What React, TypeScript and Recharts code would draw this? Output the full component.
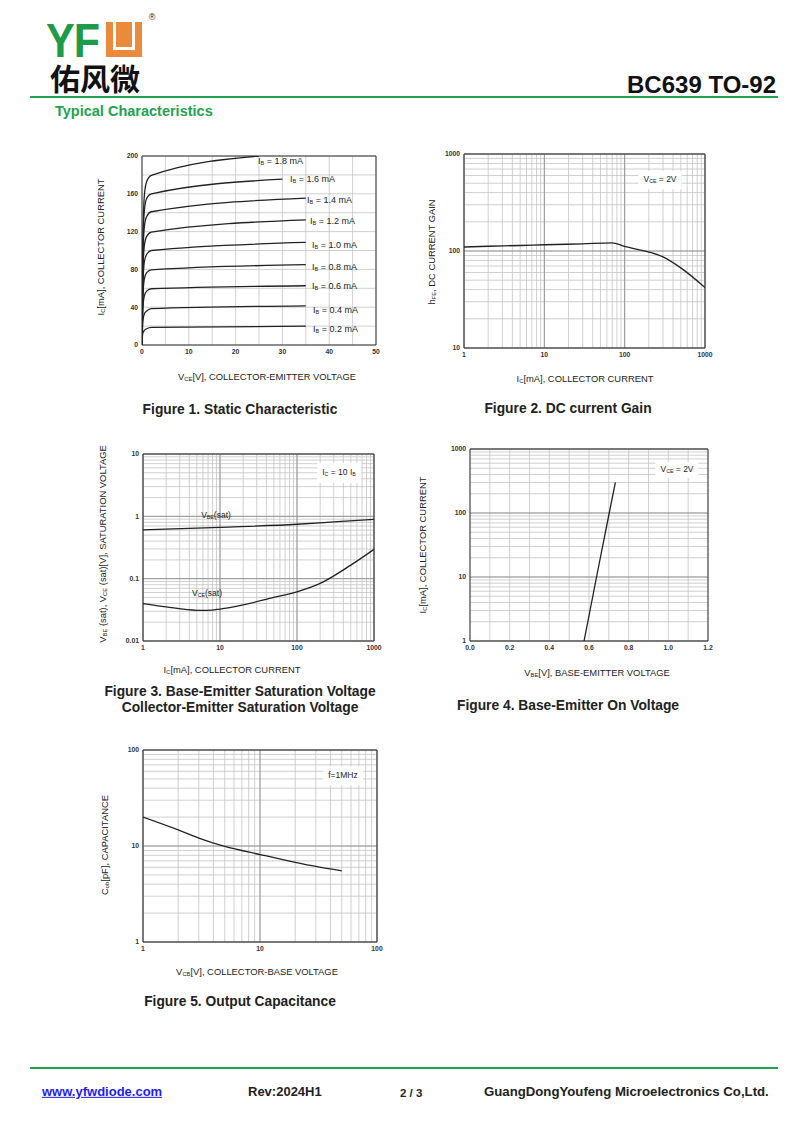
import React from "react";
import {
  LineChart,
  Line,
  XAxis,
  YAxis,
  CartesianGrid,
  ReferenceLine,
} from "recharts";

// ---- Figure 1: static characteristic, Ic vs Vce for each Ib ----
const ib02 = [{ v: 0, ic: 0 }, { v: 0.15, ic: 12 }, { v: 0.5, ic: 15.5 }, { v: 1, ic: 17.2 }, { v: 2, ic: 18.6 }, { v: 35, ic: 20 }];
const ib04 = [{ v: 0, ic: 0 }, { v: 0.2, ic: 26 }, { v: 0.5, ic: 33 }, { v: 1, ic: 36 }, { v: 2, ic: 38.5 }, { v: 35, ic: 41.5 }];
const ib06 = [{ v: 0, ic: 0 }, { v: 0.2, ic: 40 }, { v: 0.5, ic: 52 }, { v: 1, ic: 57 }, { v: 2, ic: 59.5 }, { v: 35, ic: 62.7 }];
const ib08 = [{ v: 0, ic: 0 }, { v: 0.2, ic: 52 }, { v: 0.5, ic: 70 }, { v: 1, ic: 76.5 }, { v: 2, ic: 79.5 }, { v: 35, ic: 85 }];
const ib10 = [{ v: 0, ic: 0 }, { v: 0.2, ic: 65 }, { v: 0.5, ic: 88 }, { v: 1, ic: 96 }, { v: 2, ic: 100 }, { v: 35, ic: 108.5 }];
const ib12 = [{ v: 0, ic: 0 }, { v: 0.2, ic: 78 }, { v: 0.5, ic: 105 }, { v: 1, ic: 115 }, { v: 2, ic: 119.5 }, { v: 35, ic: 132.5 }];
const ib14 = [{ v: 0, ic: 0 }, { v: 0.2, ic: 90 }, { v: 0.5, ic: 125 }, { v: 1, ic: 136 }, { v: 2, ic: 141 }, { v: 35, ic: 155.5 }];
const ib16 = [{ v: 0, ic: 0 }, { v: 0.2, ic: 100 }, { v: 0.5, ic: 142 }, { v: 1, ic: 155 }, { v: 2, ic: 160 }, { v: 30, ic: 175.5 }];
const ib18 = [{ v: 0, ic: 0 }, { v: 0.2, ic: 110 }, { v: 0.5, ic: 158 }, { v: 1, ic: 173 }, { v: 2, ic: 179.5 }, { v: 25, ic: 200 }];
const fig1Curves = [ib02, ib04, ib06, ib08, ib10, ib12, ib14, ib16, ib18];
const fig1Labels = ["0.2", "0.4", "0.6", "0.8", "1.0", "1.2", "1.4", "1.6", "1.8"];
const fig1XTicks = [0, 5, 10, 15, 20, 25, 30, 35, 40, 45, 50];
const fig1XLabels = [0, 10, 20, 30, 40, 50];
const fig1YTicks = [0, 20, 40, 60, 80, 100, 120, 140, 160, 180, 200];
const fig1YLabels = [0, 40, 80, 120, 160, 200];

// ---- Figure 2: hFE vs Ic ----
const hfe = [
  { ic: 1, h: 110 }, { ic: 2, h: 112 }, { ic: 5, h: 114 }, { ic: 10, h: 116 },
  { ic: 30, h: 118.5 }, { ic: 70, h: 121 }, { ic: 100, h: 111.5 }, { ic: 200, h: 97.6 },
  { ic: 300, h: 87 }, { ic: 500, h: 67 }, { ic: 1000, h: 42 },
];

// ---- Figure 3: saturation voltages vs Ic ----
const vbeSat = [{ ic: 1, v: 0.605 }, { ic: 10, v: 0.667 }, { ic: 100, v: 0.746 }, { ic: 300, v: 0.813 }, { ic: 1000, v: 0.897 }];
const vceSat = [
  { ic: 1, v: 0.0398 }, { ic: 2, v: 0.0352 }, { ic: 5, v: 0.0311 }, { ic: 7, v: 0.031 },
  { ic: 10, v: 0.0325 }, { ic: 20, v: 0.038 }, { ic: 50, v: 0.05 }, { ic: 100, v: 0.0616 },
  { ic: 200, v: 0.0838 }, { ic: 500, v: 0.165 }, { ic: 1000, v: 0.295 },
];

// ---- Figure 4: Ic vs Vbe ----
const vbeOn = [{ v: 0.575, ic: 1 }, { v: 0.638, ic: 10 }, { v: 0.702, ic: 100 }, { v: 0.733, ic: 300 }];
const fig4XTicks = [0, 0.1, 0.2, 0.3, 0.4, 0.5, 0.6, 0.7, 0.8, 0.9, 1.0, 1.1, 1.2];
const fig4XLabels = ["0.0", "0.2", "0.4", "0.6", "0.8", "1.0", "1.2"];

// ---- Figure 5: Cob vs Vcb ----
const cob = [
  { v: 1, c: 20 }, { v: 2, c: 14.7 }, { v: 3, c: 12.1 }, { v: 5, c: 9.9 },
  { v: 10, c: 8.15 }, { v: 20, c: 6.76 }, { v: 30, c: 6.12 }, { v: 50, c: 5.5 },
];

// log grid: decades x steps
const steps = [1, 2, 3, 4, 5, 6, 7, 8, 9];
const logTicks = (decades: number[]) => {
  const out: number[] = [];
  decades.slice(0, -1).forEach((d) => steps.forEach((s) => out.push(+(d * s).toPrecision(6))));
  out.push(decades[decades.length - 1]);
  return out;
};
const dec1k = [1, 10, 100, 1000];
const dec10to1k = [10, 100, 1000];
const decSat = [0.01, 0.1, 1, 10];
const dec100 = [1, 10, 100];

const GREEN = "#22a34f";
const FONT = "'Liberation Sans', Arial, sans-serif";
const tickStyle = { fontSize: 6.8, fill: "#333", fontWeight: 700, fontFamily: FONT };

const Sub = ({ children }: any) => (
  <span style={{ fontSize: "0.62em", verticalAlign: "-0.2em" }}>{children}</span>
);

function Tx({ x, y, size = 9, bold = false, color = "#222", anchor = "middle", rotate = false, bg, children, style }: any) {
  const tx = anchor === "middle" ? "-50%" : anchor === "end" ? "-100%" : "0";
  return (
    <div
      style={{
        position: "absolute",
        left: x,
        top: y,
        transform: `translate(${tx}, -50%)${rotate ? " rotate(-90deg)" : ""}`,
        fontSize: size,
        fontWeight: bold ? 700 : 400,
        color,
        whiteSpace: "nowrap",
        fontFamily: FONT,
        lineHeight: 1.1,
        background: bg,
        ...style,
      }}
    >
      {children}
    </div>
  );
}

type Series = { data: any[]; y: string; curve?: "monotone" | "linear" };

function Plot(props: {
  left: number; top: number; w: number; h: number; xKey: string;
  xDomain: number[]; yDomain: number[]; xLog?: boolean; yLog?: boolean;
  xTicks: number[]; yTicks: number[]; xFmt: (v: number) => string; yFmt: (v: number) => string;
  xMajor?: number[]; yMajor?: number[]; series: Series[];
}) {
  const L = 34, T = 4, R = 16, B = 14;
  const p = props;
  return (
    <div style={{ position: "absolute", left: p.left - L, top: p.top - T }}>
      <LineChart width={p.w + L + R} height={p.h + T + B} margin={{ top: T, right: R, bottom: 0, left: 0 }}>
        <CartesianGrid stroke="#c4c4c4" strokeWidth={0.8} />
        <XAxis
          type="number" dataKey={p.xKey} scale={p.xLog ? "log" : "linear"} domain={p.xDomain}
          ticks={p.xTicks} interval={0} tickFormatter={p.xFmt} allowDataOverflow height={B}
          axisLine={false} tickLine={false} tickSize={3} tickMargin={1} tick={tickStyle}
        />
        <YAxis
          type="number" scale={p.yLog ? "log" : "linear"} domain={p.yDomain}
          ticks={p.yTicks} interval={0} tickFormatter={p.yFmt} allowDataOverflow width={L}
          axisLine={false} tickLine={false} tickSize={3} tickMargin={1} tick={tickStyle}
        />
        {(p.xMajor || []).map((v) => (
          <ReferenceLine key={"mx" + v} x={v} stroke="#8e8e8e" strokeWidth={0.9} />
        ))}
        {(p.yMajor || []).map((v) => (
          <ReferenceLine key={"my" + v} y={v} stroke="#8e8e8e" strokeWidth={0.9} />
        ))}
        <ReferenceLine x={p.xDomain[0]} stroke="#333" />
        <ReferenceLine x={p.xDomain[1]} stroke="#333" />
        <ReferenceLine y={p.yDomain[0]} stroke="#333" />
        <ReferenceLine y={p.yDomain[1]} stroke="#333" />
        {p.series.map((s, i) => (
          <Line
            key={i} data={s.data} dataKey={s.y} type={s.curve || "monotone"} stroke="#222"
            strokeWidth={1.3} dot={false} isAnimationActive={false}
          />
        ))}
      </LineChart>
    </div>
  );
}

const decFmt = (decs: number[]) => (v: number) => (decs.includes(v) ? String(v) : "");

export default function App() {
  const ibY = [330, 311, 287, 268, 246, 222, 201, 180, 162];
  const ibX = [313, 313, 312, 312, 312, 310, 307, 290, 258];
  const AX = 9.4;
  const CAP = 13.8;
  return (
    <div style={{ position: "absolute", left: 0, top: 0, width: 800, height: 1131, background: "#fff", fontFamily: FONT, overflow: "hidden" }}>
      {/* header / logo */}
      <div style={{ position: "absolute", left: 46, top: 20.8, fontSize: 43, fontWeight: 700, color: "#1f9a49", lineHeight: 0.8, transform: "scaleY(1.13)", transformOrigin: "top left", letterSpacing: -1 }}>YF</div>
      <div style={{ position: "absolute", left: 106, top: 22, width: 36, height: 35, background: "#eb8a3a" }} />
      <div style={{ position: "absolute", left: 113, top: 22, width: 22, height: 28, background: "#fff" }} />
      <div style={{ position: "absolute", left: 116, top: 22, width: 16, height: 25, background: "#eb8a3a" }} />
      <Tx x={152} y={18} size={9}>®</Tx>
      <div style={{ position: "absolute", left: 50, top: 61.5, fontSize: 30, fontWeight: 700, fontFamily: "'Noto Sans CJK SC'", color: "#111", lineHeight: 1 }}>佑风微</div>
      <Tx x={776} y={85} size={24} bold anchor="end" color="#111">BC639 TO-92</Tx>
      <div style={{ position: "absolute", left: 30, top: 96, width: 748, height: 2, background: GREEN }} />
      <Tx x={55} y={112} size={14.5} bold anchor="start" color={GREEN}>Typical Characteristics</Tx>

      {/* Figure 1 */}
      <Plot
        left={142} top={156} w={234} h={189} xKey="v"
        xDomain={[0, 50]} yDomain={[0, 200]} xTicks={fig1XTicks} yTicks={fig1YTicks}
        xFmt={(v) => (fig1XLabels.includes(v) ? String(v) : "")}
        yFmt={(v) => (fig1YLabels.includes(v) ? String(v) : "")}
        series={fig1Curves.map((d) => ({ data: d, y: "ic" }))}
      />
      {fig1Labels.map((l, i) => (
        <Tx key={l} x={ibX[i]} y={ibY[i]} size={9} anchor="start">I<Sub>B</Sub> = {l} mA</Tx>
      ))}
      <Tx x={267} y={377} size={AX}>V<Sub>CE</Sub>[V], COLLECTOR-EMITTER VOLTAGE</Tx>
      <Tx x={101} y={247} size={AX} rotate>I<Sub>C</Sub>[mA], COLLECTOR CURRENT</Tx>
      <Tx x={240} y={410} size={CAP} bold>Figure 1. Static Characteristic</Tx>

      {/* Figure 2 */}
      <Plot
        left={464} top={154} w={241} h={194} xKey="ic" xLog yLog
        xDomain={[1, 1000]} yDomain={[10, 1000]} xTicks={logTicks(dec1k)} yTicks={logTicks(dec10to1k)}
        xFmt={decFmt(dec1k)} yFmt={decFmt(dec10to1k)} xMajor={dec1k} yMajor={dec10to1k}
        series={[{ data: hfe, y: "h" }]}
      />
      <Tx x={660} y={180} size={8.5} bg="#fff" style={{ padding: "4px 5px" }}>V<Sub>CE</Sub> = 2V</Tx>
      <Tx x={585} y={379} size={AX}>I<Sub>C</Sub>[mA], COLLECTOR CURRENT</Tx>
      <Tx x={432} y={252} size={AX} rotate>h<Sub>FE</Sub>, DC CURRENT GAIN</Tx>
      <Tx x={568} y={409} size={CAP} bold>Figure 2. DC current Gain</Tx>

      {/* Figure 3 */}
      <Plot
        left={143} top={454} w={231} h={187} xKey="ic" xLog yLog
        xDomain={[1, 1000]} yDomain={[0.01, 10]} xTicks={logTicks(dec1k)} yTicks={logTicks(decSat)}
        xFmt={decFmt(dec1k)} yFmt={decFmt(decSat)} xMajor={dec1k} yMajor={decSat}
        series={[{ data: vbeSat, y: "v" }, { data: vceSat, y: "v" }]}
      />
      <Tx x={339} y={473} size={8.5} bg="#fff" style={{ padding: "5px 5px" }}>I<Sub>C</Sub> = 10 I<Sub>B</Sub></Tx>
      <Tx x={216} y={516} size={8.5}>V<Sub>BE</Sub>(sat)</Tx>
      <Tx x={207} y={594} size={8.5}>V<Sub>CE</Sub>(sat)</Tx>
      <Tx x={232} y={670} size={AX}>I<Sub>C</Sub>[mA], COLLECTOR CURRENT</Tx>
      <Tx x={103} y={544} size={AX} rotate>V<Sub>BE</Sub> (sat), V<Sub>CE</Sub> (sat)[V], SATURATION VOLTAGE</Tx>
      <Tx x={240} y={692} size={CAP} bold>Figure 3. Base-Emitter Saturation Voltage</Tx>
      <Tx x={240} y={708} size={CAP} bold>Collector-Emitter Saturation Voltage</Tx>

      {/* Figure 4 */}
      <Plot
        left={470} top={449} w={238} h={192} xKey="v" yLog
        xDomain={[0, 1.2]} yDomain={[1, 1000]} xTicks={fig4XTicks} yTicks={logTicks(dec1k)}
        xFmt={(v) => (fig4XLabels.includes(v.toFixed(1)) ? v.toFixed(1) : "")}
        yFmt={decFmt(dec1k)} yMajor={dec1k}
        series={[{ data: vbeOn, y: "ic", curve: "linear" }]}
      />
      <Tx x={677} y={470} size={8.5} bg="#fff" style={{ padding: "3px 5px" }}>V<Sub>CE</Sub> = 2V</Tx>
      <Tx x={597} y={673} size={AX}>V<Sub>BE</Sub>[V], BASE-EMITTER VOLTAGE</Tx>
      <Tx x={423} y={545} size={AX} rotate>I<Sub>C</Sub>[mA], COLLECTOR CURRENT</Tx>
      <Tx x={568} y={706} size={CAP} bold>Figure 4. Base-Emitter On Voltage</Tx>

      {/* Figure 5 */}
      <Plot
        left={143} top={750} w={234} h={192} xKey="v" xLog yLog
        xDomain={[1, 100]} yDomain={[1, 100]} xTicks={logTicks(dec100)} yTicks={logTicks(dec100)}
        xFmt={decFmt(dec100)} yFmt={decFmt(dec100)} xMajor={dec100} yMajor={dec100}
        series={[{ data: cob, y: "c" }]}
      />
      <Tx x={343} y={776} size={8.5} bg="#fff" style={{ padding: "5px 5px" }}>f=1MHz</Tx>
      <Tx x={257} y={972} size={AX}>V<Sub>CB</Sub>[V], COLLECTOR-BASE VOLTAGE</Tx>
      <Tx x={105} y={845} size={AX} rotate>C<Sub>ob</Sub>[pF], CAPACITANCE</Tx>
      <Tx x={240} y={1002} size={CAP} bold>Figure 5. Output Capacitance</Tx>

      {/* footer */}
      <div style={{ position: "absolute", left: 30, top: 1067, width: 748, height: 2, background: GREEN }} />
      <Tx x={42} y={1092} size={13} bold anchor="start" color="#1d1df0" style={{ textDecoration: "underline" }}>www.yfwdiode.com</Tx>
      <Tx x={248} y={1092} size={13} bold anchor="start">Rev:2024H1</Tx>
      <Tx x={400} y={1093} size={11.5} bold anchor="start">2 / 3</Tx>
      <Tx x={484} y={1092} size={13.2} bold anchor="start">GuangDongYoufeng Microelectronics Co,Ltd.</Tx>
    </div>
  );
}
